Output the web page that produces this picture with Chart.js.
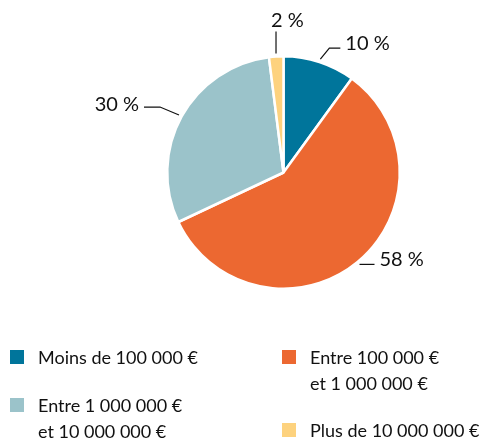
<!DOCTYPE html>
<html>
<head>
<meta charset="utf-8">
<script src="https://cdn.jsdelivr.net/npm/chart.js@4.4.1/dist/chart.umd.min.js"></script>
<style>
  html, body { margin: 0; padding: 0; background: #fff; }
  #wrap { width: 491px; height: 441px; }
</style>
</head>
<body>
<div id="wrap"><canvas id="pieChart" width="491" height="441"></canvas></div>
<script>
// data
const categories = [
    ['Moins de 100 000 €'],
    ['Entre 100 000 €', 'et 1 000 000 €'],
    ['Entre 1 000 000 €', 'et 10 000 000 €'],
    ['Plus de 10 000 000 €']
];
const shares = [10, 58, 30, 2];
const sliceColors = ['#00759b', '#ec6831', '#9bc3ca', '#fdd27e'];

// leader line shape for each slice: bend offset from the arc, then horizontal run
const leaders = [
    { bend: [9, -11], run: 11 },
    { bend: [0, 0], run: 15 },
    { bend: [-19, -8], run: -16 },
    { bend: [0, -22], run: 0 }
];

// legend layout (two columns)
const legendSlots = [
    { x: 10, y: 350 },
    { x: 282, y: 350 },
    { x: 10, y: 398 },
    { x: 282, y: 423 }
];

const labelFont = '20px Lato';
const legendFont = '18px Lato';

const pieLabels = {
    id: 'pieLabels',
    afterDraw(chart) {
        const ctx = chart.ctx;
        const meta = chart.getDatasetMeta(0);
        ctx.save();
        ctx.strokeStyle = '#111';
        ctx.lineWidth = 1.2;
        ctx.fillStyle = '#111';
        ctx.font = labelFont;
        ctx.textBaseline = 'middle';

        meta.data.forEach((arc, i) => {
            const p = arc.getProps(['x', 'y', 'startAngle', 'endAngle', 'outerRadius'], true);
            const mid = (p.startAngle + p.endAngle) / 2;
            const r = p.outerRadius + 3;
            const x0 = p.x + Math.cos(mid) * r;
            const y0 = p.y + Math.sin(mid) * r;
            const lead = leaders[i];
            const x1 = x0 + lead.bend[0];
            const y1 = y0 + lead.bend[1];
            const x2 = x1 + lead.run;

            ctx.beginPath();
            ctx.moveTo(x0, y0);
            ctx.lineTo(x1, y1);
            ctx.lineTo(x2, y1);
            ctx.stroke();

            const txt = shares[i] + ' %';
            if (lead.run > 0) {
                ctx.textAlign = 'left';
                ctx.fillText(txt, x2 + 5, y1 - 5);
            } else if (lead.run < 0) {
                ctx.textAlign = 'right';
                ctx.fillText(txt, x2 - 5, y1 - 3);
            } else {
                ctx.textAlign = 'left';
                ctx.fillText(txt, x1 - 5, y1 - 11);
            }
        });

        // legend
        ctx.font = legendFont;
        ctx.textAlign = 'left';
        categories.forEach((lines, i) => {
            const slot = legendSlots[i];
            ctx.fillStyle = sliceColors[i];
            ctx.fillRect(slot.x, slot.y, 14, 14);
            ctx.fillStyle = '#111';
            lines.forEach((line, k) => {
                ctx.fillText(line, slot.x + 28, slot.y + 8 + k * 26);
            });
        });
        ctx.restore();
    }
};

new Chart(document.getElementById('pieChart'), {
    type: 'pie',
    data: {
        labels: categories.map(l => l.join(' ')),
        datasets: [{
            data: shares,
            backgroundColor: sliceColors,
            borderColor: '#ffffff',
            borderWidth: 2.5
        }]
    },
    options: {
        responsive: false,
        animation: false,
        rotation: 0,
        layout: { padding: { left: 166, right: 90, top: 55, bottom: 151 } },
        plugins: {
            legend: { display: false },
            tooltip: { enabled: false }
        }
    },
    plugins: [pieLabels]
});
</script>
</body>
</html>
